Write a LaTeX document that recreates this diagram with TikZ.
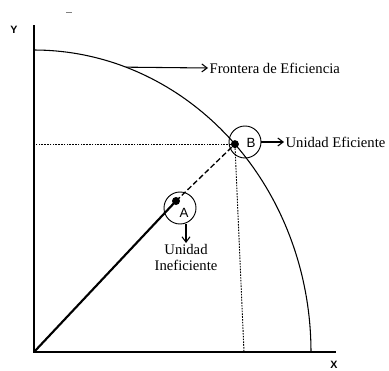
\documentclass[tikz,border=0pt]{standalone}
\usepackage{fontspec}
\setmainfont{Liberation Serif}
\setsansfont{Liberation Sans}
\usetikzlibrary{arrows.meta, positioning, calc}

\begin{document}
\begin{tikzpicture}[x=0.75pt, y=-0.75pt,
    axis/.style={line width=0.9pt},
    guide/.style={line width=0.7pt, dash pattern=on 1.2pt off 0.9pt},
    dotpt/.style={circle, fill=black, inner sep=0pt, minimum size=6pt},
    ring/.style={circle, draw, line width=0.7pt, minimum size=24pt, inner sep=0pt},
    lbl/.style={font=\fontsize{11}{12}\selectfont, inner sep=1pt},
    axlbl/.style={font=\sffamily\bfseries\fontsize{8}{9}\selectfont, inner sep=0pt},
    parr/.style={-{Straight Barb[length=4pt, width=6pt]}, line width=0.8pt}
  ]
  \useasboundingbox (0,0) rectangle (389,371);

  % axes
  \coordinate (O) at (34,352);
  \coordinate (ytop) at (34,25);
  \coordinate (xend) at (336,352);
  \draw[axis] (ytop) -- (O) -- (xend);
  \node[axlbl] (ylab) at (14,30) {Y};
  \node[axlbl] (xlab) at (334,365) {X};
  \draw[gray, line width=0.6pt] (66,12) -- (72,12);

  % frontier
  \draw[line width=0.8pt] plot[domain=0:90, samples=80] ({34+277*cos(\x)}, {352-302*sin(\x)});
  \coordinate (F) at ({34+277*cos(70.6)}, {352-302*sin(70.6)});
  \node[lbl, anchor=west] (front) at (208,68) {Frontera de Eficiencia};
  \draw[parr] (F) -- (front.west);

  % units
  \node[dotpt] (B) at ({34+277*cos(43.5)}, {352-302*sin(43.5)}) {};
  \node[dotpt] (A) at (176,201) {};
  \node[ring] (Bring) at (245,142) {};
  \node[ring] (Aring) at (180,208) {};
  \node[font=\sffamily\fontsize{10}{11}\selectfont] (Blab) at (251,143) {B};
  \node[font=\sffamily\fontsize{10}{11}\selectfont] (Alab) at (184,213) {A};

  \coordinate (Bx) at (244,352);
  \draw[guide] (B) -- (B -| O);
  \draw[guide] (B) -- (Bx);
  \draw[line width=1.6pt] (O) -- (A.center);
  \draw[line width=1pt, dash pattern=on 4pt off 2pt] (A.center) -- (B.center);

  \node[lbl, anchor=west] (eff) at (284,142) {Unidad Eficiente};
  \draw[parr] (Bring.east) -- (eff.west);
  \node[lbl, align=center, anchor=north] (inef) at (186,243) {Unidad\\Ineficiente};
  \draw[parr] (Aring.south -| inef.north) -- (inef.north);
\end{tikzpicture}
\end{document}
